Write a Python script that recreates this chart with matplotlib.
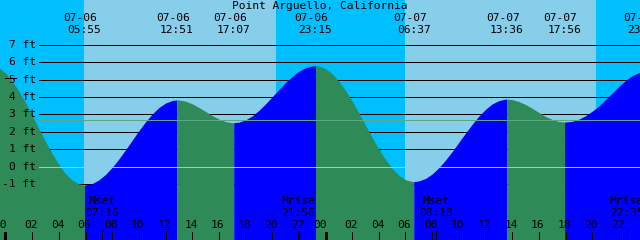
import numpy as np
import matplotlib
matplotlib.use("Agg")
from matplotlib import pyplot as plt

# Tide chart in the XTide style, 640x240 px
title = "Point Arguello, California"

# tide extremes shown along the top
event_dates = ["07-06", "07-06", "07-06", "07-06", "07-07", "07-07", "07-07", "07-07"]
event_times = ["05:55", "12:51", "17:07", "23:15", "06:37", "13:36", "17:56", "23:54"]
event_days = [0, 0, 0, 0, 1, 1, 1, 1]

# moon events shown along the bottom
moon_names = ["Mset", "Mrise", "Mset", "Mrise"]
moon_times = ["07:16", "21:56", "08:18", "22:35"]
moon_days = [0, 0, 1, 1]

# daylight (hours from midnight of 07-06)
sunrise_hours = [5.89, 29.96]
sunset_hours = [20.29, 44.29]

# tide height (ft)
tide_hours = [-1.2, -0.5, 0, 0.5, 1, 1.5, 2, 2.5, 3, 3.5, 4, 4.5, 5, 5.5, 5.917,
              6, 6.5, 7, 7.5, 8, 8.5, 9, 9.5, 10, 10.5, 11, 11.5, 12, 12.5, 12.85,
              13, 13.5, 14, 14.5, 15, 15.5, 16, 16.5, 17, 17.117,
              17.5, 18, 18.5, 19, 19.5, 20, 20.5, 21, 21.5, 22, 22.5, 23, 23.25,
              23.5, 24, 24.5, 25, 25.5, 26, 26.5, 27, 27.5, 28, 28.5, 29, 29.5, 30, 30.5, 30.617,
              31, 31.5, 32, 32.5, 33, 33.5, 34, 34.5, 35, 35.5, 36, 36.5, 37, 37.5, 37.6,
              38, 38.5, 39, 39.5, 40, 40.5, 41, 41.5, 41.933,
              42, 42.5, 43, 43.5, 44, 44.5, 45, 45.5, 46, 46.5, 47, 47.5, 47.9, 48]
tide_feet = [5.85, 5.69, 5.38, 4.92, 4.34, 3.68, 2.94, 2.18, 1.43, 0.73, 0.11, -0.41, -0.78, -1.00, -1.06,
             -1.06, -0.98, -0.77, -0.46, -0.05, 0.43, 0.96, 1.51, 2.06, 2.57, 3.02, 3.39, 3.65, 3.80, 3.83,
             3.83, 3.76, 3.61, 3.40, 3.17, 2.93, 2.73, 2.59, 2.52, 2.52,
             2.55, 2.68, 2.91, 3.23, 3.60, 4.01, 4.43, 4.83, 5.18, 5.48, 5.68, 5.79, 5.80,
             5.78, 5.63, 5.34, 4.91, 4.38, 3.76, 3.08, 2.37, 1.67, 1.00, 0.40, -0.11, -0.50, -0.76, -0.87, -0.87,
             -0.83, -0.69, -0.43, -0.07, 0.37, 0.86, 1.39, 1.92, 2.43, 2.90, 3.29, 3.60, 3.79, 3.88, 3.88,
             3.85, 3.74, 3.57, 3.35, 3.11, 2.88, 2.71, 2.59, 2.56,
             2.56, 2.60, 2.72, 2.92, 3.18, 3.48, 3.85, 4.22, 4.60, 4.95, 5.22, 5.40, 5.48, 5.47]

ft_levels = [-1, 0, 1, 2, 3, 4, 5, 6, 7]
mean_level = 2.68
mark_level = 5.1
hour_ticks = [0, 2, 4, 6, 8, 10, 12, 14, 16, 18, 20, 22, 24, 26, 28, 30, 32, 34, 36, 38, 40, 42, 44, 46]

NIGHT = '#00BFFF'
DAY = '#87CEEB'
FLOOD = '#0000FF'
EBB = '#2E8B57'
FONT = dict(family='DejaVu Sans Mono', fontsize=8.1, color='black')
PX = 0.72  # one pixel in points


def to_hours(day, hhmm):
    hh, mm = hhmm.split(':')
    return day * 24 + int(hh) + int(mm) / 60


W, H = 640, 240
px_per_hour = 320 / 24
px_per_ft = 17.375
x_zero, y_zero = 5.5, 166.5  # pixel of 00:00 and of 0 ft

fig = plt.figure(figsize=(W / 100, H / 100), dpi=100)
ax = fig.add_axes([0, 0, 1, 1])
ax.set_xlim(-x_zero / px_per_hour, (W - x_zero) / px_per_hour)
ax.set_ylim((y_zero - H) / px_per_ft, y_zero / px_per_ft)
ax.axis('off')
xt = ax.get_xaxis_transform()  # x data, y axes
yt = ax.get_yaxis_transform()  # x axes, y data


def hline(y, x0, x1, color, z):
    ax.plot([x0, x1], [y, y], color=color, lw=PX, transform=yt, zorder=z,
            solid_capstyle='butt', antialiased=False)


def tick(x, length, width, z=5):
    ax.plot([x, x], [0, length / H], color='black', lw=width * PX, transform=xt, zorder=z,
            solid_capstyle='butt', antialiased=False)


# sky
ax.axvspan(-10, 60, color=NIGHT, zorder=0, lw=0)
for a, b in zip(sunrise_hours, sunset_hours):
    ax.axvspan(a, b, color=DAY, zorder=0.5, lw=0)

# foot grid, behind the water
line_x0 = 39 / W
for lv in ft_levels:
    hline(lv, line_x0, 1, 'black', 1)
    ax.text(36 / W, lv, f"{lv} ft", transform=yt, ha='right', va='center', **FONT)
hline(mark_level, 5 / W, 16 / W, 'black', 6)

# water, blue while rising and green while falling
t = np.array(tide_hours)
h = np.array(tide_feet)
ext = [-1.2] + [to_hours(d, s) for d, s in zip(event_days, event_times)] + [48]
bottom = ax.get_ylim()[0]
for a, b in zip(ext[:-1], ext[1:]):
    m = (t >= a - 0.01) & (t <= b + 0.01)
    col = FLOOD if h[m][-1] > h[m][0] else EBB
    ax.fill_between(t[m], h[m], bottom, color=col, lw=0, zorder=2, antialiased=False)

# datum and mean lines on top of the water
hline(0, line_x0, 1, DAY, 3)
hline(mean_level, line_x0, 1, '#5aa882', 3)

# title and tide event labels
fig.text(0.5, 1 - 6 / H, title, ha='center', va='center', **FONT)
for d, s, day in zip(event_dates, event_times, event_days):
    x = to_hours(day, s)
    ax.text(x - 4 / px_per_hour, 1 - 18 / H, d, transform=xt, ha='center', va='center', **FONT)
    ax.text(x, 1 - 30 / H, s, transform=xt, ha='center', va='center', **FONT)

# hour labels and ticks (midnight label sits further left)
for hr in hour_ticks:
    shift = 6 if hr % 24 == 0 else 1
    ax.text(hr - shift / px_per_hour, 1 - 225 / H, f"{hr % 24:02d}", transform=xt,
            ha='center', va='center', zorder=5, **FONT)
    tick(hr, 8, 3 if hr % 24 == 0 else 1)

# moon events
for name, s, day in zip(moon_names, moon_times, moon_days):
    x = to_hours(day, s)
    ax.text(x, 1 - 201.5 / H, name, transform=xt, ha='center', va='center', zorder=5, **FONT)
    ax.text(x, 1 - 213 / H, s, transform=xt, ha='center', va='center', zorder=5, **FONT)
    tick(x, 9, 1)

fig.savefig('out.png', dpi=100)
